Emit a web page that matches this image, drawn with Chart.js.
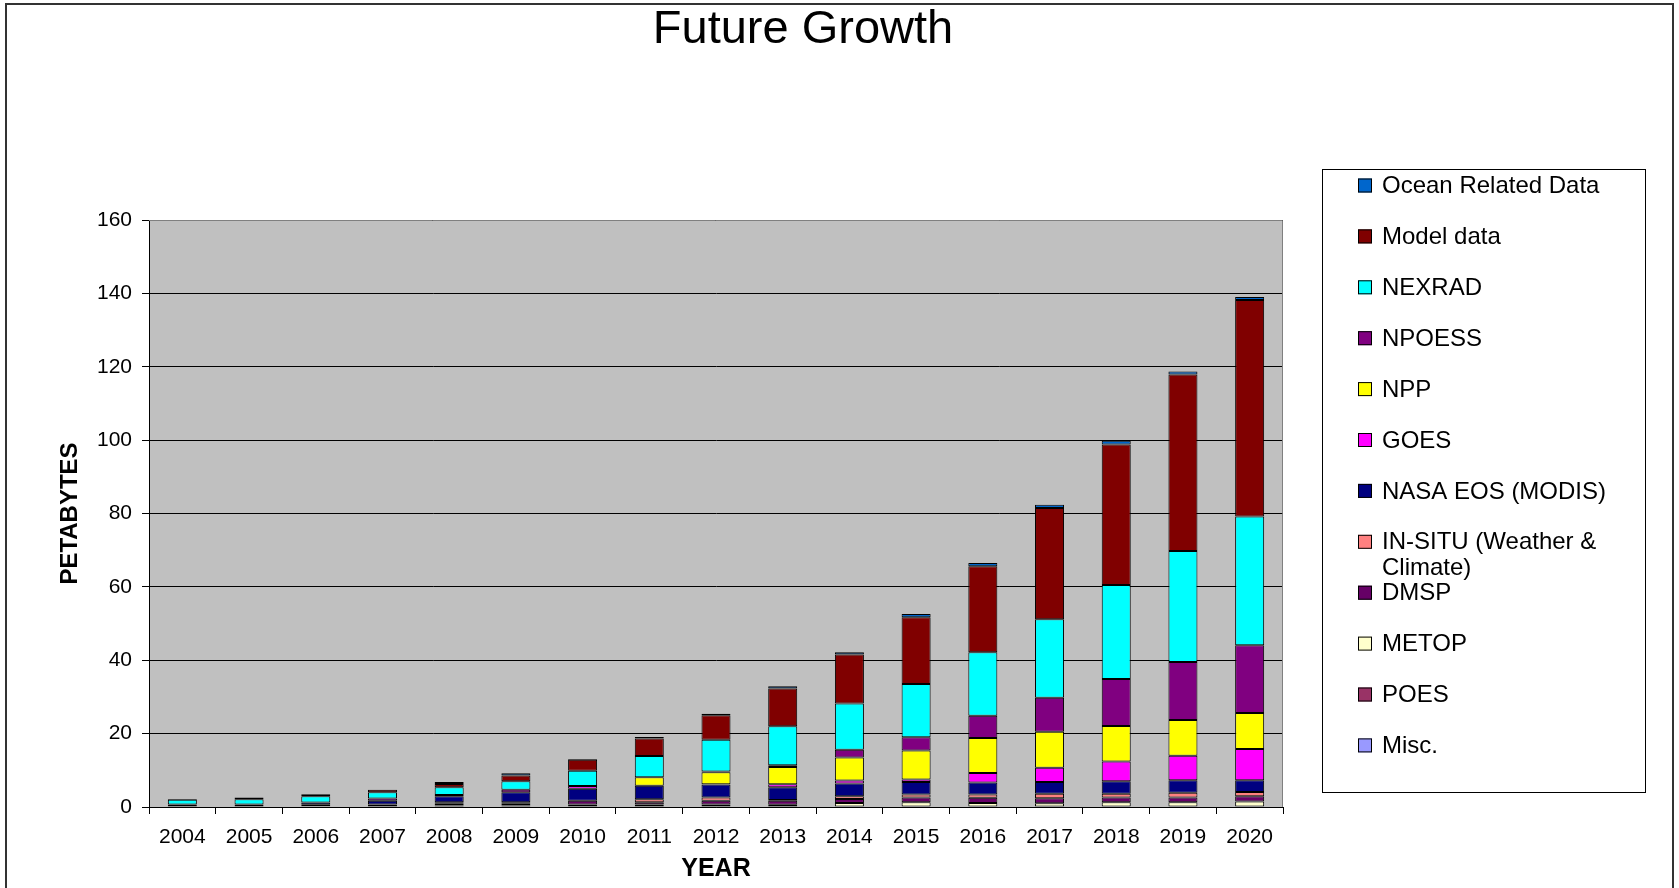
<!DOCTYPE html>
<html>
<head>
<meta charset="utf-8">
<title>Future Growth</title>
<script src="https://cdn.jsdelivr.net/npm/chart.js@4.4.1/dist/chart.umd.min.js"></script>
<style>
  html, body { margin: 0; padding: 0; background: #fff; }
  #wrap { width: 1679px; height: 888px; position: relative; }
</style>
</head>
<body>
<div id="wrap"><canvas id="growthChart" width="1679" height="888"></canvas></div>
<script>
const years = ['2004', '2005', '2006', '2007', '2008', '2009', '2010', '2011', '2012',
  '2013', '2014', '2015', '2016', '2017', '2018', '2019', '2020'];
const yTicks = [0, 20, 40, 60, 80, 100, 120, 140, 160];

// stack order, bottom first (petabytes)
const misc   = [0, 0, 0, 0, 0, 0, 0, 0, 0, 0, 0, 0, 0, 0, 0, 0, 0];
const poes   = [0, 0, 0, 0, 0, 0, 0, 0, 0, 0, 0, 0, 0, 0, 0, 0, 0];
const metop  = [0, 0, 0.2, 0.3, 0.4, 0.4, 0.7, 0.7, 0.7, 0.6, 1.1, 1.3, 1.1, 1.0, 1.3, 1.3, 1.5];
const dmsp   = [0.3, 0.3, 0.4, 0.4, 0.5, 0.5, 1.0, 0.6, 1.0, 1.1, 1.1, 1.3, 1.4, 1.4, 1.3, 1.3, 1.4];
const inSitu = [0, 0, 0, 0, 0.4, 0.4, 0, 0.8, 0.9, 0.2, 0.7, 0.8, 0.9, 1.2, 1.0, 1.3, 1.2];
const nasaEos = [0.4, 0.4, 0.6, 1.0, 1.6, 2.7, 3.3, 3.7, 3.5, 3.5, 3.5, 3.4, 3.3, 3.2, 3.4, 3.4, 3.2];
const goes   = [0, 0, 0, 0.6, 0.4, 0.7, 0.7, 0, 0.1, 0.8, 0.8, 0.7, 2.6, 3.9, 5.4, 6.7, 8.5];
const npp    = [0, 0, 0, 0, 0, 0, 0, 2.3, 3.3, 4.7, 6.3, 7.9, 9.5, 9.8, 9.7, 9.7, 9.8];
const npoess = [0, 0, 0, 0, 0, 0, 0, 0, 0.2, 0.5, 2.1, 3.6, 6.1, 9.3, 12.8, 15.8, 18.5];
const nexrad = [1.3, 1.4, 1.7, 1.7, 2.1, 2.3, 4.2, 5.8, 8.6, 10.6, 12.6, 14.5, 17.3, 21.4, 25.6, 30.3, 35.1];
const model  = [0.2, 0.5, 0.6, 0.7, 0.9, 1.6, 3.0, 4.8, 6.7, 10.3, 13.4, 18.2, 23.4, 30.3, 38.3, 48.1, 59.0];
const ocean  = [0, 0, 0, 0, 0.5, 0.6, 0.2, 0.4, 0.4, 0.6, 0.6, 0.9, 0.9, 0.9, 1.0, 0.8, 0.8];

const seriesNames = ['Misc.', 'POES', 'METOP', 'DMSP', 'IN-SITU (Weather & Climate)',
  'NASA EOS (MODIS)', 'GOES', 'NPP', 'NPOESS', 'NEXRAD', 'Model data', 'Ocean Related Data'];
const seriesValues = [misc, poes, metop, dmsp, inSitu, nasaEos, goes, npp, npoess, nexrad, model, ocean];
const seriesColors = ['#9999FF', '#993366', '#FFFFCC', '#660066', '#FF8080', '#000080',
  '#FF00FF', '#FFFF00', '#800080', '#00FFFF', '#800000', '#0066CC'];

const FONT = "'Liberation Sans', Arial, sans-serif";

/* -----------------------------
   Frame, title, plot backdrop
------------------------------ */

const framePlugin = {
  id: 'frame',
  beforeDraw(chart) {
    const { ctx, chartArea: a } = chart;
    ctx.save();
    ctx.fillStyle = '#fff';
    ctx.fillRect(0, 0, chart.width, chart.height);
    ctx.fillStyle = '#C0C0C0';
    ctx.fillRect(a.left, a.top, a.right - a.left, a.bottom - a.top);
    ctx.restore();
  },
  afterDraw(chart) {
    const { ctx, chartArea: a } = chart;
    ctx.save();
    // plot area outline (top / right)
    ctx.strokeStyle = '#808080';
    ctx.lineWidth = 1;
    ctx.beginPath();
    ctx.moveTo(a.left, a.top + 0.5);
    ctx.lineTo(a.right - 0.5, a.top + 0.5);
    ctx.lineTo(a.right - 0.5, a.bottom);
    ctx.stroke();
    // outer chart frame
    ctx.strokeStyle = '#333';
    ctx.lineWidth = 2;
    ctx.strokeRect(6, 4, 1667, 900);
    // title
    ctx.fillStyle = '#000';
    ctx.font = `47px ${FONT}`;
    ctx.textAlign = 'center';
    ctx.textBaseline = 'alphabetic';
    ctx.fillText('Future Growth', 803, 43);
    ctx.restore();
  },
};

/* -----------------------------
   Boxed legend on the right
------------------------------ */

function wrapText(ctx, text, maxWidth) {
  const words = text.split(' ');
  const lines = [];
  let line = '';
  words.forEach((w) => {
    const test = line ? `${line} ${w}` : w;
    if (ctx.measureText(test).width > maxWidth && line) {
      lines.push(line);
      line = w;
    } else {
      line = test;
    }
  });
  lines.push(line);
  return lines;
}

const boxLegendPlugin = {
  id: 'boxLegend',
  afterDraw(chart) {
    const { ctx } = chart;
    const box = { x: 1322, y: 169, w: 323, h: 623 };
    ctx.save();
    ctx.strokeStyle = '#000';
    ctx.lineWidth = 1;
    ctx.strokeRect(box.x + 0.5, box.y + 0.5, box.w, box.h);
    ctx.font = `24px ${FONT}`;
    ctx.textAlign = 'left';
    ctx.textBaseline = 'middle';
    const items = chart.data.datasets.slice().reverse();
    items.forEach((ds, i) => {
      const cy = 185.5 + i * 50.9;
      ctx.fillStyle = ds.backgroundColor;
      ctx.fillRect(1358, cy - 7, 14, 14);
      ctx.strokeStyle = '#000';
      ctx.strokeRect(1358.5, cy - 6.5, 13, 13);
      ctx.fillStyle = '#000';
      wrapText(ctx, ds.label, 250).forEach((ln, k) => {
        ctx.fillText(ln, 1382, cy + 1 + k * 25.7);
      });
    });
    ctx.restore();
  },
};

/* -----------------------------
   Chart
------------------------------ */

const datasets = seriesNames.map((name, i) => ({
  label: name,
  data: seriesValues[i],
  backgroundColor: seriesColors[i],
  borderColor: '#000',
  borderWidth: 1,
  borderSkipped: false,
  barPercentage: 0.435,
  categoryPercentage: 1,
}));

new Chart(document.getElementById('growthChart'), {
  type: 'bar',
  data: { labels: years, datasets },
  options: {
    responsive: false,
    animation: false,
    devicePixelRatio: 1,
    layout: { padding: { left: 0, top: 220, right: 396, bottom: 0 } },
    plugins: {
      legend: { display: false },
      title: { display: false },
      tooltip: { enabled: false },
    },
    scales: {
      x: {
        stacked: true,
        afterFit(scale) { scale.height = 81; },
        grid: {
          display: true,
          drawOnChartArea: false,
          drawTicks: true,
          tickLength: 7,
          offset: true,
          color: '#000',
        },
        border: { color: '#000', width: 1 },
        ticks: {
          color: '#000',
          padding: 11,
          maxRotation: 0,
          autoSkip: false,
          font: { family: FONT, size: 21 },
        },
        title: {
          display: true,
          text: 'YEAR',
          color: '#000',
          padding: { top: 0, bottom: 4 },
          font: { family: FONT, size: 25, weight: 'bold' },
        },
      },
      y: {
        stacked: true,
        min: 0,
        max: 160,
        afterFit(scale) { scale.width = 149; },
        afterBuildTicks(scale) { scale.ticks = yTicks.map((v) => ({ value: v })); },
        grid: {
          color: '#000',
          lineWidth: 1,
          tickLength: 7,
          drawTicks: true,
        },
        border: { color: '#000', width: 1 },
        ticks: {
          color: '#000',
          padding: 10,
          font: { family: FONT, size: 21 },
        },
        title: {
          display: true,
          text: 'PETABYTES',
          color: '#000',
          padding: { top: 56, bottom: 0 },
          font: { family: FONT, size: 24, weight: 'bold' },
        },
      },
    },
  },
  plugins: [framePlugin, boxLegendPlugin],
});
</script>
</body>
</html>
